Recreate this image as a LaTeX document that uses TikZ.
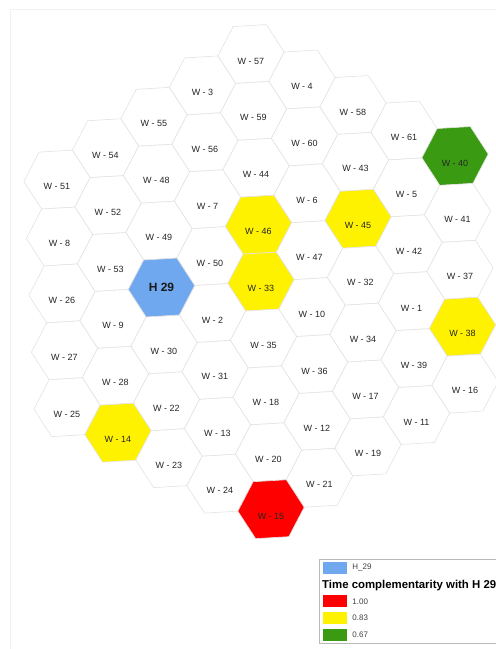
\documentclass[tikz,border=0pt]{standalone}
\usepackage{fontspec}
\setmainfont{Liberation Sans}
\usetikzlibrary{positioning}

\definecolor{homeblue}{RGB}{112,168,240}
\definecolor{lowgreen}{RGB}{58,155,18}

\begin{document}
\begin{tikzpicture}[
    x=1pt, y=1pt,
    cell/.style={
      draw=gray!22,
      line width=0.6pt,
      fill=white
    },
    home/.style={fill=homeblue},
    hot/.style={fill=red},
    mid/.style={fill=yellow},
    low/.style={fill=lowgreen},
    cellname/.style={
      font=\fontsize{9}{9}\selectfont,
      text=black!85,
      inner sep=0pt,
      yshift=-7pt
    },
    swatch/.style={
      inner sep=0pt,
      minimum width=24pt,
      minimum height=12pt
    },
    keytext/.style={
      font=\fontsize{8}{8}\selectfont,
      text=black!75,
      inner sep=0pt
    }
  ]
    \useasboundingbox (0,0) rectangle (496,649);
    \draw[gray!10, line width=0.8pt] (10,0) -- (10,640) -- (496,640);

    \begin{scope}[shift={(251,595)}, x={(51pt,-25.5pt)}, y={(2.5pt,-56.9pt)}]
      \foreach \a/\b/\lab/\kind in {
          0/0/57/cell, -1/1/3/cell, 1/0/4/cell, -2/2/55/cell, 0/1/59/cell,
          2/0/58/cell, -3/3/54/cell, -1/2/56/cell, 1/1/60/cell, 3/0/61/cell,
          4/0/40/low, -4/4/51/cell, -2/3/48/cell, 0/2/44/cell, 2/1/43/cell,
          -3/4/52/cell, -1/3/7/cell, 1/2/6/cell, 3/1/5/cell, -4/5/8/cell,
          -2/4/49/cell, 0/3/46/mid, 2/2/45/mid, 4/1/41/cell, -3/5/53/cell,
          -1/4/50/cell, 1/3/47/cell, 3/2/42/cell, -4/6/26/cell, 0/4/33/mid,
          2/3/32/cell, 4/2/37/cell, -3/6/9/cell, -1/5/2/cell, 1/4/10/cell,
          3/3/1/cell, 4/3/38/mid, -4/7/27/cell, -2/6/30/cell, 0/5/35/cell,
          2/4/34/cell, 3/4/39/cell, -3/7/28/cell, -1/6/31/cell, 1/5/36/cell,
          2/5/17/cell, 4/4/16/cell, -4/8/25/cell, -2/7/22/cell, 0/6/18/cell,
          3/5/11/cell, -3/8/14/mid, -1/7/13/cell, 1/6/12/cell, 2/6/19/cell,
          -2/8/23/cell, 0/7/20/cell, -1/8/24/cell, 1/7/21/cell, 0/8/15/hot} {
        \path[cell, \kind] (\a,\b) ++(2/3,-1/3) -- ++(-1/3,2/3) -- ++(-2/3,1/3)
          -- ++(-1/3,-1/3) -- ++(1/3,-2/3) -- ++(2/3,-1/3) -- cycle;
        \node[cellname] (w\lab) at (\a,\b) {W - \lab};
      }
      % the home cell
      \path[cell, home] (-2,5) ++(2/3,-1/3) -- ++(-1/3,2/3) -- ++(-2/3,1/3)
        -- ++(-1/3,-1/3) -- ++(1/3,-2/3) -- ++(2/3,-1/3) -- cycle;
      \node[font=\fontsize{12}{12}\selectfont\bfseries, text=black!90, inner sep=0pt]
        (h29) at (-2,5) {H 29};
    \end{scope}

    % legend
    \draw[gray!55, line width=0.8pt] (496,90) -- (319,90) -- (319,6) -- (496,6);
    \node[swatch, fill=homeblue] (keyhome) at (335,81) {};
    \node[keytext, right=5pt of keyhome] (keyhomename) {H\_29};
    \node[font=\fontsize{11.4}{11.4}\selectfont\bfseries, inner sep=0pt, anchor=base west]
      (keytitle) at (322,60) {Time complementarity with H 29};
    \node[swatch, fill=red] (keyhot) at (335,47.5) {};
    \node[keytext, right=5pt of keyhot] (keyhotname) {1.00};
    \node[swatch, fill=yellow] (keymid) at (335,31) {};
    \node[keytext, right=5pt of keymid] (keymidname) {0.83};
    \node[swatch, fill=lowgreen] (keylow) at (335,14) {};
    \node[keytext, right=5pt of keylow] (keylowname) {0.67};
  \end{tikzpicture}
\end{document}
